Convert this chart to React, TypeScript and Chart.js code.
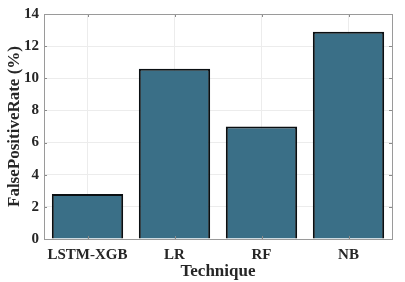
import React, { useEffect, useRef } from "react";
import { Chart, registerables } from "chart.js";

Chart.register(...registerables);

const categories = ["LSTM-XGB", "LR", "RF", "NB"];
const falsePositiveRate = [2.8, 10.6, 7.0, 12.9];
const yTicks = [0, 2, 4, 6, 8, 10, 12, 14];

const FONT = "'Liberation Serif', 'Times New Roman', serif";

const boxPlugin = {
  id: "boxTicks",
  afterDraw(chart: any) {
    const { ctx, chartArea } = chart;
    const { left, right, top, bottom } = chartArea;
    ctx.save();
    ctx.strokeStyle = "#8a8a8a";
    ctx.lineWidth = 1;
    ctx.beginPath();
    const xs = chart.scales.x;
    const ys = chart.scales.y;
    for (let i = 0; i < categories.length; i++) {
      const px = Math.round(xs.getPixelForValue(i)) + 0.5;
      ctx.moveTo(px, bottom);
      ctx.lineTo(px, bottom - 3);
      ctx.moveTo(px, top);
      ctx.lineTo(px, top + 3);
    }
    for (const v of yTicks) {
      const py = Math.round(ys.getPixelForValue(v)) + 0.5;
      ctx.moveTo(left, py);
      ctx.lineTo(left + 3, py);
      ctx.moveTo(right, py);
      ctx.lineTo(right - 3, py);
    }
    ctx.stroke();
    ctx.strokeStyle = "#9a9a9a";
    ctx.strokeRect(Math.round(left) + 0.5, Math.round(top) + 0.5, Math.round(right - left), Math.round(bottom - top));
    ctx.restore();
  },
};

export default function App() {
  const ref = useRef<HTMLCanvasElement | null>(null);
  useEffect(() => {
    document.body.style.margin = "0";
    const chart = new Chart(ref.current!, {
      type: "bar",
      data: {
        labels: categories,
        datasets: [
          {
            data: falsePositiveRate,
            backgroundColor: "#3a6f87",
            borderColor: "#0a0f12",
            borderWidth: 2,
            barPercentage: 0.82,
            categoryPercentage: 1,
          },
        ],
      },
      options: {
        responsive: false,
        animation: false,
        maintainAspectRatio: false,
        layout: { padding: { left: 0, right: 13, top: 9, bottom: 0 } },
        plugins: { legend: { display: false }, tooltip: { enabled: false } },
        scales: {
          x: {
            grid: { offset: false, color: "#ececec", drawTicks: false },
            border: { display: false },
            ticks: {
              color: "#262626",
              padding: 7,
              font: { family: FONT, size: 15, weight: "bold" },
            },
            title: {
              display: true,
              text: "Technique",
              color: "#262626",
              padding: { top: 0, bottom: 0 },
              font: { family: FONT, size: 17, weight: "bold" },
            },
            afterFit(scale: any) {
              scale.height = 43;
            },
          },
          y: {
            min: 0,
            max: 14,
            grid: { color: "#ececec", drawTicks: false },
            border: { display: false },
            afterBuildTicks(scale: any) {
              scale.ticks = yTicks.map((v) => ({ value: v }));
            },
            ticks: {
              color: "#262626",
              padding: 5,
              font: { family: FONT, size: 15, weight: "bold" },
            },
            title: {
              display: true,
              text: "FalsePositiveRate (%)",
              color: "#262626",
              padding: { top: 4, bottom: 0 },
              font: { family: FONT, size: 17, weight: "bold" },
            },
            afterFit(scale: any) {
              scale.width = 44;
            },
          },
        },
      },
      plugins: [boxPlugin],
    });
    return () => chart.destroy();
  }, []);
  return (
    <div style={{ position: "fixed", left: 0, top: 0, width: 405, height: 282, background: "#fff" }}>
      <canvas ref={ref} width={405} height={282} style={{ display: "block", width: 405, height: 282 }} />
    </div>
  );
}
